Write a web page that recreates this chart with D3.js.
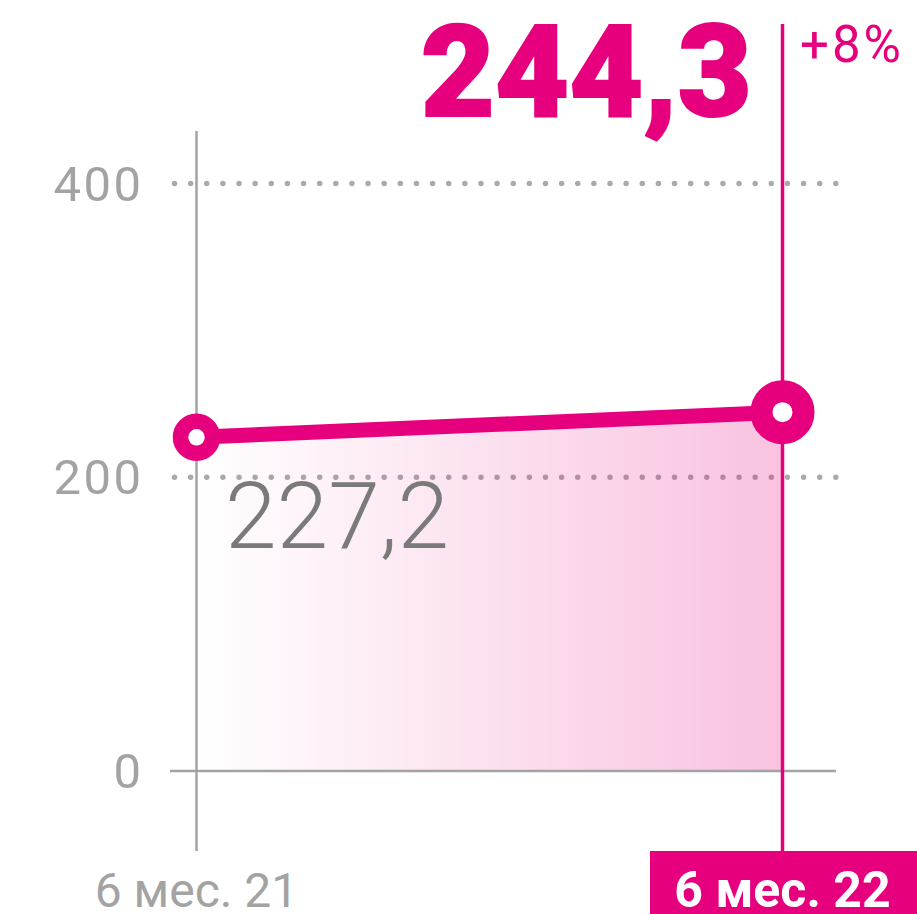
<!DOCTYPE html>
<html>
<head>
<meta charset="utf-8">
<script src="https://cdn.jsdelivr.net/npm/d3@7"></script>
<style>
  body { margin: 0; background: #fff; }
  svg { display: block; font-family: Roboto, "Noto Sans", sans-serif; }
</style>
</head>
<body>
<svg id="chart" width="917" height="914"></svg>
<script>
// data
const periods = ['6 мес. 21', '6 мес. 22'];
const values = [227.2, 244.3];
const valueLabels = ['227,2', '244,3'];
const change = '+8%';
const yTicks = [0, 200, 400];

const magenta = '#e6007e',
      grey = '#a3a3a3';

const svg = d3.select('#chart');

const x = d3.scalePoint().domain(periods).range([196.5, 782.5]);
const y = d3.scaleLinear().domain([0, 400]).range([771, 183.5]);

const defs = svg.append('defs');
const grad = defs.append('linearGradient')
  .attr('id', 'areaGrad')
  .attr('x1', '0%').attr('x2', '100%')
  .attr('y1', '0%').attr('y2', '0%');
grad.append('stop').attr('offset', '0%').attr('stop-color', magenta).attr('stop-opacity', 0);
grad.append('stop').attr('offset', '100%').attr('stop-color', magenta).attr('stop-opacity', 0.24);

// dotted grid
svg.append('g')
  .selectAll('line')
  .data(yTicks.filter(d => d > 0))
  .join('line')
  .attr('x1', 174.5).attr('x2', 838)
  .attr('y1', d => y(d)).attr('y2', d => y(d))
  .attr('stroke', '#aaa')
  .attr('stroke-width', 5.5)
  .attr('stroke-linecap', 'round')
  .attr('stroke-dasharray', '0 16.13');

// tick labels
svg.append('g')
  .selectAll('text')
  .data(yTicks)
  .join('text')
  .attr('x', 143.5)
  .attr('y', d => y(d) + 17)
  .attr('text-anchor', 'end')
  .attr('font-size', 49)
  .attr('letter-spacing', 2.5)
  .attr('fill', grey)
  .text(d => d);

// area
const pts = periods.map((p, i) => ({p, v: values[i]}));
svg.append('path')
  .datum(pts)
  .attr('d', d3.area().x(d => x(d.p)).y0(y(0)).y1(d => y(d.v)))
  .attr('fill', 'url(#areaGrad)');

// zero axis
svg.append('line')
  .attr('x1', 170).attr('x2', 836)
  .attr('y1', y(0)).attr('y2', y(0))
  .attr('stroke', grey)
  .attr('stroke-width', 2.5);

// left vertical
svg.append('line')
  .attr('x1', x(periods[0])).attr('x2', x(periods[0]))
  .attr('y1', 131).attr('y2', 851)
  .attr('stroke', grey)
  .attr('stroke-width', 2.5);

// right vertical
svg.append('line')
  .attr('x1', x(periods[1])).attr('x2', x(periods[1]))
  .attr('y1', 24).attr('y2', 860)
  .attr('stroke', magenta)
  .attr('stroke-width', 3.5);

// line
svg.append('path')
  .datum(pts)
  .attr('d', d3.line().x(d => x(d.p)).y(d => y(d.v)))
  .attr('fill', 'none')
  .attr('stroke', magenta)
  .attr('stroke-width', 15);

// markers
const markerR = [16, 21], markerW = [15.5, 22];
svg.append('g')
  .selectAll('circle')
  .data(pts)
  .join('circle')
  .attr('cx', d => x(d.p))
  .attr('cy', d => y(d.v))
  .attr('r', (d, i) => markerR[i])
  .attr('fill', '#fff')
  .attr('stroke', magenta)
  .attr('stroke-width', (d, i) => markerW[i]);

// value labels
svg.append('text')
  .attr('x', 225).attr('y', 548)
  .attr('font-size', 93)
  .attr('font-weight', 300)
  .attr('fill', '#7a7a7a')
  .text(valueLabels[0]);

svg.append('text')
  .attr('x', 752).attr('y', 116)
  .attr('text-anchor', 'end')
  .attr('font-size', 128)
  .attr('font-weight', 900)
  .attr('fill', magenta)
  .attr('stroke', magenta)
  .attr('stroke-width', 2)
  .text(valueLabels[1]);

svg.append('text')
  .attr('x', 800).attr('y', 62)
  .attr('font-size', 51)
  .attr('letter-spacing', 3)
  .attr('fill', magenta)
  .text(change);

// x labels
svg.append('rect')
  .attr('x', 650).attr('y', 851)
  .attr('width', 267).attr('height', 63)
  .attr('fill', magenta);

svg.append('g')
  .selectAll('text')
  .data(periods)
  .join('text')
  .attr('x', d => x(d))
  .attr('y', 907)
  .attr('text-anchor', 'middle')
  .attr('font-size', (d, i) => i === 1 ? 50 : 48)
  .attr('font-weight', (d, i) => i === 1 ? 700 : 400)
  .attr('fill', (d, i) => i === 1 ? '#fff' : grey)
  .text(d => d);
</script>
</body>
</html>
